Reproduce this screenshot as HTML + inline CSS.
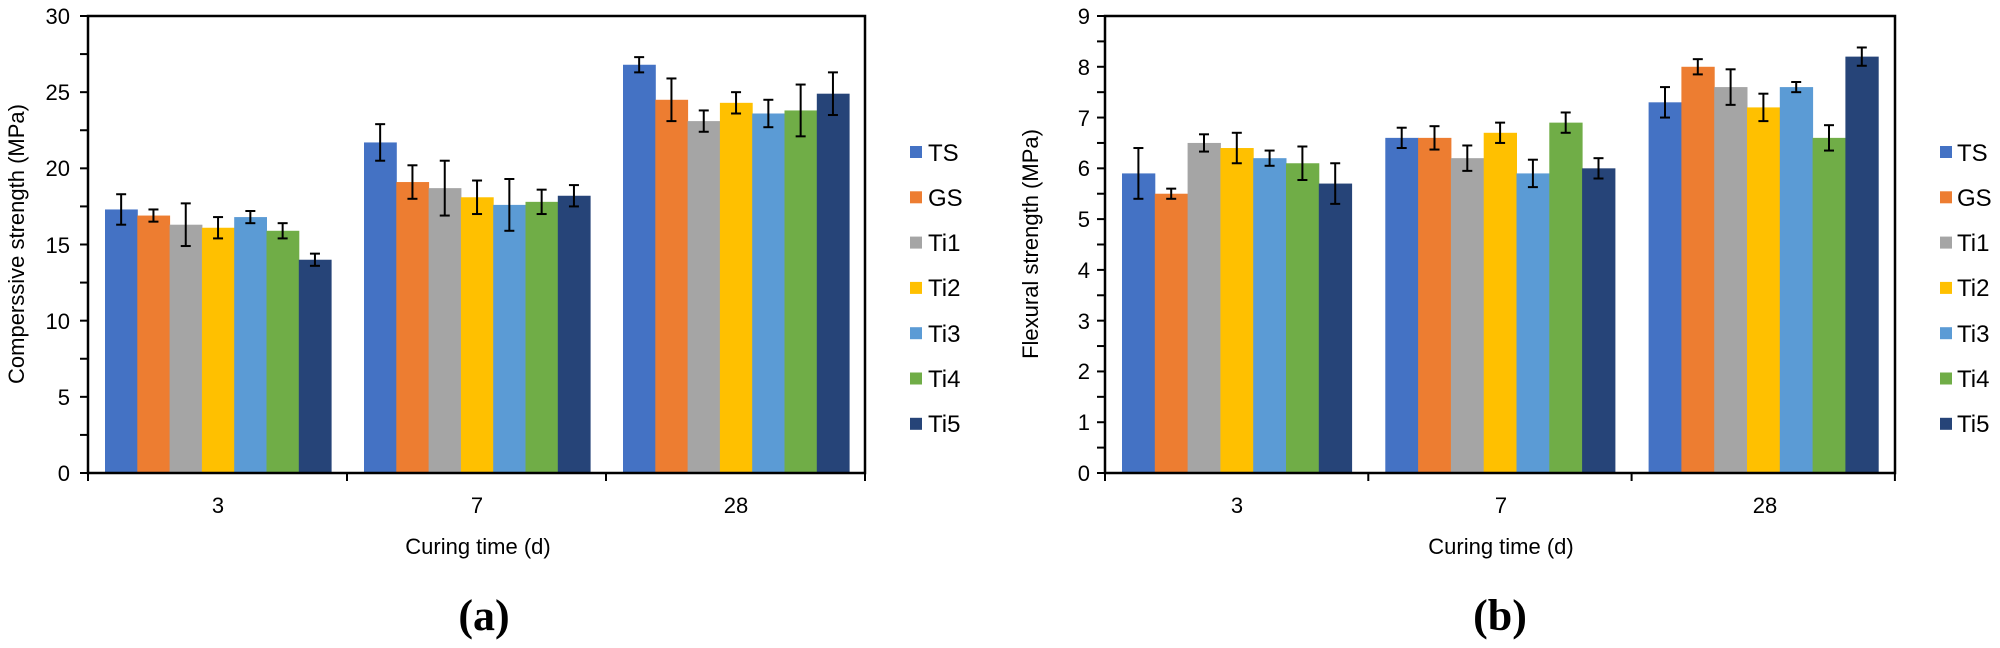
<!DOCTYPE html>
<html><head><meta charset="utf-8"><style>
html,body{margin:0;padding:0;background:#fff;}
svg{display:block;font-family:"Liberation Sans",Arial,sans-serif;}
</style></head><body>
<svg id="s" width="2000" height="648" viewBox="0 0 2000 648" xmlns="http://www.w3.org/2000/svg">
<g id="bars"></g>
<rect x="88" y="16" width="777" height="457" fill="none" stroke="#000" stroke-width="2.5"/>
<rect x="1105" y="16" width="790" height="457" fill="none" stroke="#000" stroke-width="2.5"/>
<g id="ticks" stroke="#000" stroke-width="2"></g>
<g font-size="22" text-anchor="end" fill="#000">
<text x="70" y="24">30</text><text x="70" y="100">25</text><text x="70" y="176">20</text>
<text x="70" y="253">15</text><text x="70" y="329">10</text><text x="70" y="405">5</text><text x="70" y="481">0</text>
<text x="1090" y="24">9</text><text x="1090" y="75">8</text><text x="1090" y="126">7</text>
<text x="1090" y="176">6</text><text x="1090" y="227">5</text><text x="1090" y="278">4</text>
<text x="1090" y="329">3</text><text x="1090" y="379">2</text><text x="1090" y="430">1</text><text x="1090" y="481">0</text>
</g>
<g font-size="22" text-anchor="middle">
<text x="218" y="513">3</text><text x="477" y="513">7</text><text x="736" y="513">28</text>
<text x="1237" y="513">3</text><text x="1501" y="513">7</text><text x="1765" y="513">28</text>
<text x="478" y="554">Curing time (d)</text>
<text x="1501" y="554">Curing time (d)</text>
<text transform="translate(24,244) rotate(-90)">Comperssive strength (MPa)</text>
<text transform="translate(1038,244) rotate(-90)">Flexural strength (MPa)</text>
</g>
<g font-family="'Liberation Serif',serif" font-weight="bold" font-size="44" text-anchor="middle">
<text x="484" y="630">(a)</text><text x="1500" y="630">(b)</text>
</g>
<g id="leg" font-size="24">
<text x="928" y="161">TS</text><text x="928" y="206">GS</text><text x="928" y="251">Ti1</text>
<text x="928" y="296">Ti2</text><text x="928" y="342">Ti3</text><text x="928" y="387">Ti4</text><text x="928" y="432">Ti5</text>
<text x="1957" y="161">TS</text><text x="1957" y="206">GS</text><text x="1957" y="251">Ti1</text>
<text x="1957" y="296">Ti2</text><text x="1957" y="342">Ti3</text><text x="1957" y="387">Ti4</text><text x="1957" y="432">Ti5</text>
</g>
</svg>
<script>
var C=["#4472C4","#ED7D31","#A5A5A5","#FFC000","#5B9BD5","#70AD47","#264478"];
var A=[[[17.3,1.0],[16.9,0.4],[16.3,1.4],[16.1,0.7],[16.8,0.4],[15.9,0.5],[14.0,0.4]],
[[21.7,1.2],[19.1,1.1],[18.7,1.8],[18.1,1.1],[17.6,1.7],[17.8,0.8],[18.2,0.7]],
[[26.8,0.5],[24.5,1.4],[23.1,0.7],[24.3,0.7],[23.6,0.9],[23.8,1.7],[24.9,1.4]]];
var B=[[[5.9,0.5],[5.5,0.1],[6.5,0.17],[6.4,0.3],[6.2,0.15],[6.1,0.33],[5.7,0.4]],
[[6.6,0.2],[6.6,0.23],[6.2,0.25],[6.7,0.2],[5.9,0.27],[6.9,0.2],[6.0,0.2]],
[[7.3,0.3],[8.0,0.15],[7.6,0.35],[7.2,0.27],[7.6,0.1],[6.6,0.25],[8.2,0.18]]];
var ns="http://www.w3.org/2000/svg",g=document.getElementById("bars"),t=document.getElementById("ticks");
function el(p,n,a){var e=document.createElementNS(ns,n);for(var k in a)e.setAttribute(k,a[k]);p.appendChild(e);return e;}
function chart(D,x0,gw,bw,off,max){
 var y0=473,sc=457/max;
 for(var i=0;i<3;i++)for(var j=0;j<7;j++){
  var v=D[i][j][0],e=D[i][j][1],x=x0+i*gw+off+j*bw;
  el(g,"rect",{x:x,y:y0-v*sc,width:bw+0.5,height:v*sc,fill:C[j]});
  var cx=x+bw/2,yt=y0-(v+e)*sc,yb=y0-(v-e)*sc;
  el(g,"line",{x1:cx,x2:cx,y1:yt,y2:yb,stroke:"#000","stroke-width":2});
  el(g,"line",{x1:cx-5,x2:cx+5,y1:yt,y2:yt,stroke:"#000","stroke-width":2});
  el(g,"line",{x1:cx-5,x2:cx+5,y1:yb,y2:yb,stroke:"#000","stroke-width":2});
 }
 for(var i=0;i<=3;i++)el(t,"line",{x1:x0+i*gw,x2:x0+i*gw,y1:473,y2:481});
}
chart(A,88,259,32.3,17,30);
chart(B,1105,263.3,32.8,17,9);
for(var k=0;k<=12;k++){var y=473-k*457/12;el(t,"line",{x1:80,x2:88,y1:y,y2:y});}
for(var k=0;k<=18;k++){var y=473-k*457/18;el(t,"line",{x1:1097,x2:1105,y1:y,y2:y});}
var L=document.getElementById("leg");
for(var j=0;j<7;j++){var y=146+j*45.3;
 el(L,"rect",{x:910,y:y,width:12,height:12,fill:C[j]});
 el(L,"rect",{x:1940,y:y,width:12,height:12,fill:C[j]});}
</script>
</body></html>
